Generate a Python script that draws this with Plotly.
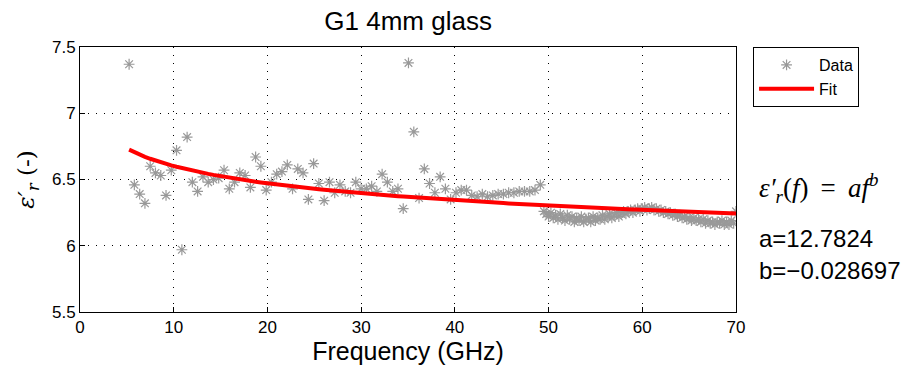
import plotly.graph_objects as go

# Measured relative permittivity of G1 4 mm glass
freq_ghz = [
    5.24, 5.80, 6.37, 6.93, 7.49, 8.05, 8.62, 9.18, 9.74, 10.30,
    10.87, 11.43, 11.99, 12.55, 13.12, 13.68, 14.24, 14.80, 15.37, 15.93,
    16.49, 17.05, 17.62, 18.18, 18.74, 19.30, 19.87, 20.43, 20.99, 21.55,
    22.12, 22.68, 23.24, 23.80, 24.37, 24.93, 25.49, 26.05, 26.62, 27.18,
    27.74, 28.30, 28.87, 29.43, 29.99, 30.55, 31.12, 31.68, 32.24, 32.80,
    33.37, 33.93, 34.49, 35.05, 35.62, 36.18, 36.74, 37.30, 37.87, 38.43,
    38.99, 39.55, 40.12, 40.68, 41.24, 41.80, 42.37, 42.93, 43.49, 44.05,
    44.62, 45.18, 45.74, 46.30, 46.87, 47.43, 47.99, 48.55, 49.12,
    49.50, 49.75, 50.00, 50.25, 50.50, 50.75, 51.00, 51.25, 51.50, 51.75,
    52.00, 52.25, 52.50, 52.75, 53.00, 53.25, 53.50, 53.75, 54.00, 54.25,
    54.50, 54.75, 55.00, 55.25, 55.50, 55.75, 56.00, 56.25, 56.50, 56.75,
    57.00, 57.25, 57.50, 57.75, 58.00, 58.25, 58.50, 58.75, 59.00, 59.25,
    59.50, 59.75, 60.00, 60.25, 60.50, 60.75, 61.00, 61.25, 61.50, 61.75,
    62.00, 62.25, 62.50, 62.75, 63.00, 63.25, 63.50, 63.75, 64.00, 64.25,
    64.50, 64.75, 65.00, 65.25, 65.50, 65.75, 66.00, 66.25, 66.50, 66.75,
    67.00, 67.25, 67.50, 67.75, 68.00, 68.25, 68.50, 68.75, 69.00, 69.25,
    69.50, 69.75, 70.00,
]

eps_r = [
    7.37, 6.46, 6.39, 6.32, 6.60, 6.55, 6.53, 6.38, 6.57, 6.72,
    5.97, 6.82, 6.48, 6.41, 6.52, 6.48, 6.50, 6.51, 6.57, 6.43,
    6.48, 6.55, 6.53, 6.44, 6.67, 6.60, 6.42, 6.48, 6.54, 6.56,
    6.61, 6.43, 6.58, 6.55, 6.35, 6.62, 6.47, 6.34, 6.48, 6.40,
    6.46, 6.41, 6.40, 6.48, 6.43, 6.43, 6.45, 6.41, 6.54, 6.48,
    6.41, 6.43, 6.28, 7.38, 6.86, 6.36, 6.58, 6.47, 6.40, 6.52,
    6.43, 6.35, 6.40, 6.42, 6.42, 6.38, 6.37, 6.39, 6.37, 6.38,
    6.39, 6.39, 6.40, 6.40, 6.41, 6.41, 6.41, 6.42, 6.46,
    6.26, 6.24, 6.22, 6.25, 6.21, 6.23, 6.20, 6.24, 6.21, 6.19,
    6.23, 6.20, 6.22, 6.18, 6.21, 6.19, 6.22, 6.18, 6.20, 6.21,
    6.18, 6.22, 6.19, 6.21, 6.20, 6.23, 6.20, 6.22, 6.24, 6.21,
    6.23, 6.25, 6.22, 6.24, 6.26, 6.24, 6.26, 6.27, 6.25, 6.27,
    6.28, 6.26, 6.28, 6.29, 6.27, 6.28, 6.29, 6.27, 6.28, 6.26,
    6.27, 6.25, 6.26, 6.24, 6.25, 6.23, 6.24, 6.22, 6.23, 6.21,
    6.22, 6.20, 6.21, 6.19, 6.21, 6.19, 6.20, 6.18, 6.20, 6.17,
    6.19, 6.17, 6.18, 6.16, 6.18, 6.17, 6.19, 6.16, 6.18, 6.16,
    6.19, 6.17, 6.26,
]

# Power-law fit eps_r'(f) = a * f^b, with f in Hz
fit_a = 12.7824
fit_b = -0.028697

x_ticks = [0, 10, 20, 30, 40, 50, 60, 70]
y_ticks = [5.5, 6, 6.5, 7, 7.5]

fit_x = freq_ghz
fit_y = [fit_a * (f * 1e9) ** fit_b for f in fit_x]

fig = go.Figure()
fig.add_trace(go.Scatter(
    x=freq_ghz, y=eps_r, mode="markers", name="Data",
    marker=dict(symbol="asterisk-open", size=9, color="#999999",
                line=dict(color="#999999", width=1.2)),
))
fig.add_trace(go.Scatter(
    x=fit_x, y=fit_y, mode="lines", name="Fit",
    line=dict(color="#ff0000", width=4),
))

sans = "Liberation Sans, Arial"
axis_common = dict(
    showline=True, mirror=True, linecolor="black", linewidth=1,
    ticks="inside", ticklen=5, tickcolor="black",
    showgrid=True, gridcolor="black", griddash="1px,7px", gridwidth=1,
    zeroline=False,
    tickfont=dict(family=sans, size=17, color="black"),
)

fig.update_xaxes(range=[0, 70], tickvals=x_ticks,
                 title=dict(text="Frequency (GHz)", standoff=4,
                            font=dict(family=sans, size=25, color="black")),
                 **axis_common)
fig.update_yaxes(range=[5.5, 7.5], tickvals=y_ticks,
                 ticktext=[str(v) for v in y_ticks],
                 title=dict(text="<i>ε′<sub>r</sub></i> (-)", standoff=10,
                            font=dict(family="DejaVu Serif, Liberation Serif", size=23, color="black")),
                 **axis_common)

formula_font = dict(family="Liberation Serif, DejaVu Serif", size=27, color="black")
text_font = dict(family=sans, size=24, color="black")
fig.add_annotation(xref="paper", yref="paper", x=1.032, y=0.468, xanchor="left", yanchor="middle",
                   text="<i>ε′<sub>r</sub></i>(<i>f</i>) \u2009=\u2009 <i>af<sup>b</sup></i>",
                   showarrow=False, font=formula_font)
fig.add_annotation(xref="paper", yref="paper", x=1.032, y=0.279, xanchor="left", yanchor="middle",
                   text=f"a={fit_a}", showarrow=False, font=text_font)
fig.add_annotation(xref="paper", yref="paper", x=1.032, y=0.158, xanchor="left", yanchor="middle",
                   text=f"b=\u2212{abs(fit_b)}", showarrow=False, font=text_font)

fig.update_layout(
    width=915, height=373,
    margin=dict(l=80, r=179, t=47, b=61),
    paper_bgcolor="white", plot_bgcolor="white",
    title=dict(text="G1 4mm glass", x=0.446, xanchor="center", y=0.945, yanchor="middle",
               font=dict(family=sans, size=26, color="black")),
    legend=dict(x=1.026, y=1.0, xanchor="left", yanchor="top",
                bordercolor="black", borderwidth=1, bgcolor="white",
                font=dict(family=sans, size=16, color="black"),
                itemwidth=55, tracegroupgap=0),
    showlegend=True,
)

fig.write_html("out.html")
